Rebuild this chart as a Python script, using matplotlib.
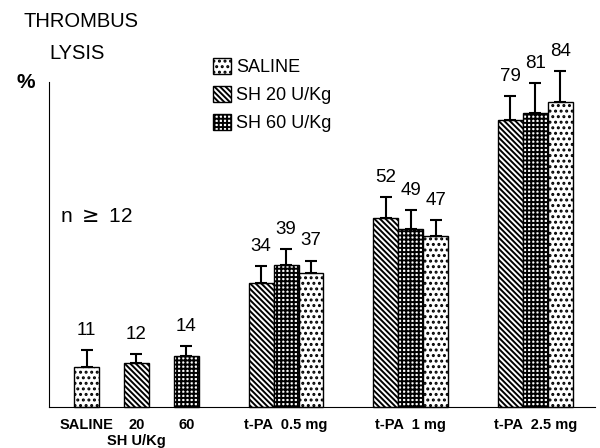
import matplotlib
matplotlib.use('Agg')
import matplotlib.pyplot as plt
from matplotlib.patches import Patch
import numpy as np

plt.rcParams['font.family'] = ['Liberation Sans', 'DejaVu Sans']
plt.rcParams['hatch.linewidth'] = 1.4

# single bars (no t-PA)
single_labels = ['SALINE', '20', '60']
single_values = [11, 12, 14]
single_err = [4.7, 2.5, 2.8]

# t-PA groups, bar order inside each group: SH 20, SH 60, SALINE
groups = ['t-PA  0.5 mg', 't-PA  1 mg', 't-PA  2.5 mg']
sh20_values = [34, 52, 79]
sh60_values = [39, 49, 81]
saline_values = [37, 47, 84]
sh20_err = [4.7, 5.8, 6.6]
sh60_err = [4.4, 5.2, 8.3]
saline_err = [3.3, 4.5, 8.5]

series_names = ['SALINE', 'SH 20 U/Kg', 'SH 60 U/Kg']
hatches = {'SALINE': '...', 'SH 20 U/Kg': '\\\\\\\\\\\\', 'SH 60 U/Kg': '++++'}

fig = plt.figure(figsize=(6, 4.48), dpi=100)
ax = fig.add_axes([0.082, 0.092, 0.91, 0.725])

w = 1.0
single_x = np.array([1.5, 3.5, 5.5])
single_hatch = [hatches['SALINE'], hatches['SH 20 U/Kg'], hatches['SH 60 U/Kg']]
err_kw = dict(ecolor='black', elinewidth=1.5, capsize=4, capthick=1.5, clip_on=False)


def label(x, v, e):
    ax.annotate(str(v), (x, v + e), xytext=(0, 8), textcoords='offset points',
                ha='center', va='bottom', fontsize=13.5, annotation_clip=False)


for x, v, e, h in zip(single_x, single_values, single_err, single_hatch):
    ax.bar(x, v, w, color='white', edgecolor='black', hatch=h, linewidth=1.0,
           yerr=[[0], [e]], error_kw=err_kw, clip_on=False)
    label(x, v, e)

centers = np.array([9.5, 14.5, 19.5])
for off, vals, errs, name in [(-1, sh20_values, sh20_err, 'SH 20 U/Kg'),
                              (0, sh60_values, sh60_err, 'SH 60 U/Kg'),
                              (1, saline_values, saline_err, 'SALINE')]:
    xs = centers + off
    ax.bar(xs, vals, w, color='white', edgecolor='black', hatch=hatches[name],
           linewidth=1.0, yerr=[np.zeros(3), errs], error_kw=err_kw, clip_on=False)
    for x, v, e in zip(xs, vals, errs):
        label(x, v, e)

ax.set_xlim(0, 21.9)
ax.set_ylim(0, 89.5)
ax.spines['top'].set_visible(False)
ax.spines['right'].set_visible(False)
ax.set_yticks([])
ax.set_xticks(list(single_x) + list(centers))
ax.set_xticklabels(single_labels + groups, fontsize=10.5, fontweight='bold')
ax.tick_params(axis='x', length=0, pad=8)
ax.text(3.5, -0.085, 'SH U/Kg', transform=ax.get_xaxis_transform(), ha='center',
        va='top', fontsize=10.5, fontweight='bold')

legend_handles = [Patch(facecolor='white', edgecolor='black', hatch=hatches[n]) for n in series_names]
ax.legend(legend_handles, series_names, loc='upper left', bbox_to_anchor=(0.27, 1.125),
          frameon=False, fontsize=13, handlelength=1.0, handleheight=1.0,
          handletextpad=0.3, labelspacing=0.55)

fig.text(0.04, 0.952, 'THROMBUS', fontsize=14.5, ha='left', va='center')
fig.text(0.128, 0.88, 'LYSIS', fontsize=14.5, ha='center', va='center')
fig.text(0.028, 0.815, '%', fontsize=15, fontweight='bold', ha='left', va='center')
ax.text(0.45, 52.5, 'n $\\geq$ 12', fontsize=15, ha='left', va='center',
        transform=ax.get_yaxis_transform() if False else ax.transData)

fig.savefig('out.png', dpi=100)
